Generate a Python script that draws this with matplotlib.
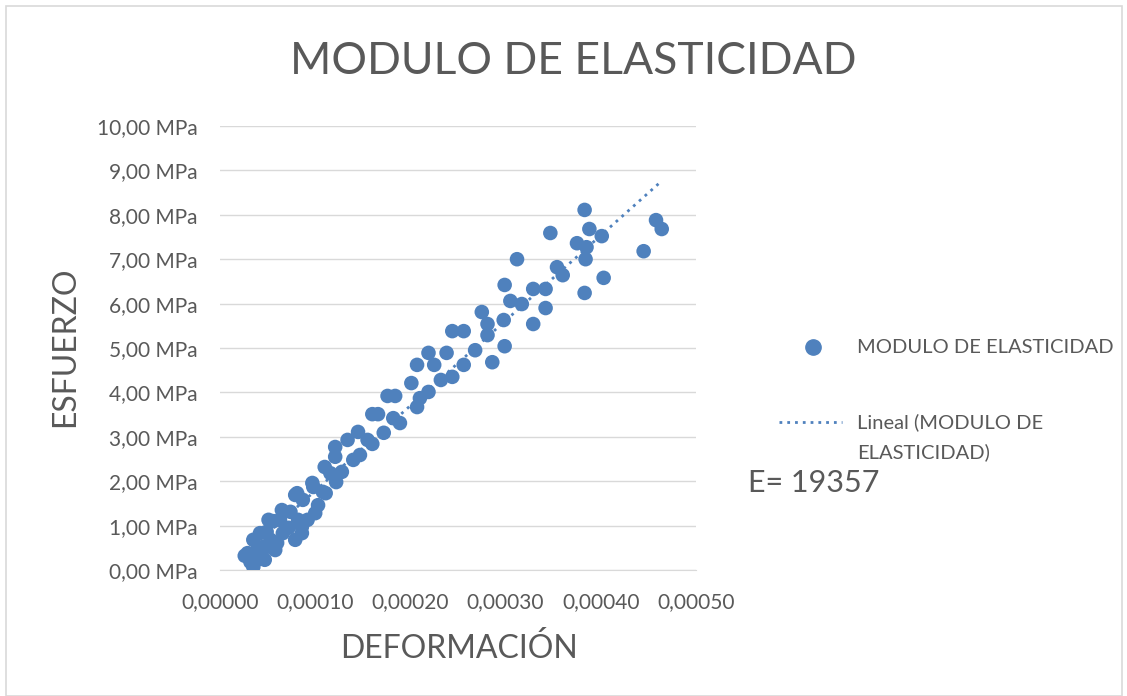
import numpy as np
import matplotlib.pyplot as plt
from matplotlib.patches import Rectangle
from matplotlib.lines import Line2D
from matplotlib.ticker import FuncFormatter

# deformacion (unitaria) y esfuerzo (MPa)
deformacion = [
    0.000032, 0.000029, 0.000035, 0.000042, 0.000051, 0.000065, 0.000079, 0.000098,
    0.000111, 0.000100, 0.000086, 0.000079, 0.000058, 0.000047, 0.000035, 0.000039,
    0.000045, 0.000060, 0.000066, 0.000049, 0.000056, 0.000082, 0.000086, 0.000081,
    0.000087, 0.000103, 0.000108, 0.000097, 0.000122, 0.000116, 0.000128, 0.000110,
    0.000121, 0.000140, 0.000147, 0.000121, 0.000134, 0.000145, 0.000155, 0.000160,
    0.000172, 0.000160, 0.000166, 0.000182, 0.000189, 0.000176, 0.000184, 0.000201,
    0.000207, 0.000210, 0.000219, 0.000232, 0.000244, 0.000207, 0.000225, 0.000256,
    0.000219, 0.000238, 0.000268, 0.000286, 0.000299, 0.000244, 0.000256, 0.000281,
    0.000281, 0.000275, 0.000298, 0.000329, 0.000305, 0.000317, 0.000342, 0.000299,
    0.000329, 0.000342, 0.000383, 0.000312, 0.000354, 0.000360, 0.000403, 0.000384,
    0.000375, 0.000385, 0.000347, 0.000388, 0.000401, 0.000445, 0.000383, 0.000458,
    0.000464, 0.000026, 0.000040, 0.000053, 0.000072, 0.000044, 0.000063, 0.000074,
    0.000092,
]
esfuerzo = [
    0.18, 0.38, 0.68, 0.83, 1.13, 1.35, 1.69, 1.87,
    1.73, 1.28, 0.83, 0.68, 0.45, 0.23, 0.07, 0.23,
    0.52, 0.61, 0.83, 0.86, 1.10, 1.13, 0.97, 1.73,
    1.58, 1.46, 1.76, 1.96, 1.98, 2.18, 2.21, 2.32,
    2.55, 2.48, 2.59, 2.77, 2.93, 3.11, 2.93, 2.84,
    3.09, 3.51, 3.51, 3.42, 3.31, 3.92, 3.92, 4.21,
    3.67, 3.87, 4.01, 4.28, 4.35, 4.62, 4.62, 4.62,
    4.89, 4.89, 4.95, 4.68, 5.04, 5.38, 5.38, 5.29,
    5.54, 5.81, 5.63, 5.54, 6.06, 5.99, 5.90, 6.42,
    6.33, 6.33, 6.24, 7.00, 6.82, 6.64, 6.58, 7.00,
    7.36, 7.27, 7.59, 7.68, 7.52, 7.18, 8.11, 7.88,
    7.68, 0.32, 0.50, 0.68, 0.95, 0.41, 1.13, 1.31,
    1.13,
]
x_ticks = [0, 0.0001, 0.0002, 0.0003, 0.0004, 0.0005]
y_ticks = [0, 1, 2, 3, 4, 5, 6, 7, 8, 9, 10]
serie = "MODULO DE ELASTICIDAD"
tendencia = ["Lineal (MODULO DE", "ELASTICIDAD)"]
modulo_txt = "E= 19357"

plt.rcParams['font.family'] = ['Lato', 'DejaVu Sans']
azul = '#4f81bd'
gris = '#595959'
punteado = (0, (1, 1.8))
W, H = 1127, 696

fig = plt.figure(figsize=(11.27, 6.96), dpi=100)
ax = fig.add_axes([220/W, 1 - 570/H, 476/W, 444/H])

ax.scatter(deformacion, esfuerzo, s=110, color=azul, edgecolors='none', zorder=3)

# linea de tendencia lineal
x = np.array(deformacion)
m, b = np.polyfit(x, np.array(esfuerzo), 1)
xt = np.array([x.min(), x.max()])
ax.plot(xt, m * xt + b, linestyle=punteado, color=azul, lw=2, zorder=4)

ax.set_xlim(0, 0.0005)
ax.set_ylim(0, 10)
ax.set_xticks(x_ticks)
ax.set_yticks(y_ticks)
ax.xaxis.set_major_formatter(FuncFormatter(lambda v, p: f"{v:.5f}".replace('.', ',')))
ax.yaxis.set_major_formatter(FuncFormatter(lambda v, p: f"{v:.2f}".replace('.', ',') + " MPa"))
ax.tick_params(length=0, labelsize=15, colors=gris)
ax.tick_params(axis='y', pad=16)
ax.tick_params(axis='x', pad=16)
ax.grid(axis='y', color='#d9d9d9', lw=1)
ax.set_axisbelow(True)
for s in ['top', 'right', 'left']:
    ax.spines[s].set_visible(False)
ax.spines['bottom'].set_color('#d9d9d9')

fig.text(573/W, 1 - 62/H, serie, ha='center', va='center', fontsize=32, color=gris)
fig.text(65/W, 1 - 347/H, "ESFUERZO", rotation=90, ha='center', va='center',
         fontsize=23, color=gris)
fig.text(459/W, 1 - 648/H, "DEFORMACIÓN", ha='center', va='center',
         fontsize=23, color=gris)

# leyenda (a mano, como en Excel)
fig.add_artist(Line2D([813/W], [1 - 347/H], marker='o', ls='none', color=azul,
                      markersize=11, transform=fig.transFigure))
fig.text(857/W, 1 - 347/H, serie, ha='left', va='center', fontsize=14.5, color=gris)
fig.add_artist(Line2D([779/W, 842/W], [1 - 422/H, 1 - 422/H], ls=punteado,
                      color=azul, lw=2, transform=fig.transFigure))
fig.text(857/W, 1 - 422/H, tendencia[0], ha='left', va='center', fontsize=14.5, color=gris)
fig.text(857/W, 1 - 452/H, tendencia[1], ha='left', va='center', fontsize=14.5, color=gris)

fig.text(748/W, 1 - 483/H, modulo_txt, ha='left', va='center', fontsize=22, color=gris)

fig.patches.append(Rectangle((6/W, 0.0), 1116/W, 1 - 6/H, transform=fig.transFigure,
                             fill=False, edgecolor='#d9d9d9', lw=1.2))

fig.savefig('out.png', dpi=100)
